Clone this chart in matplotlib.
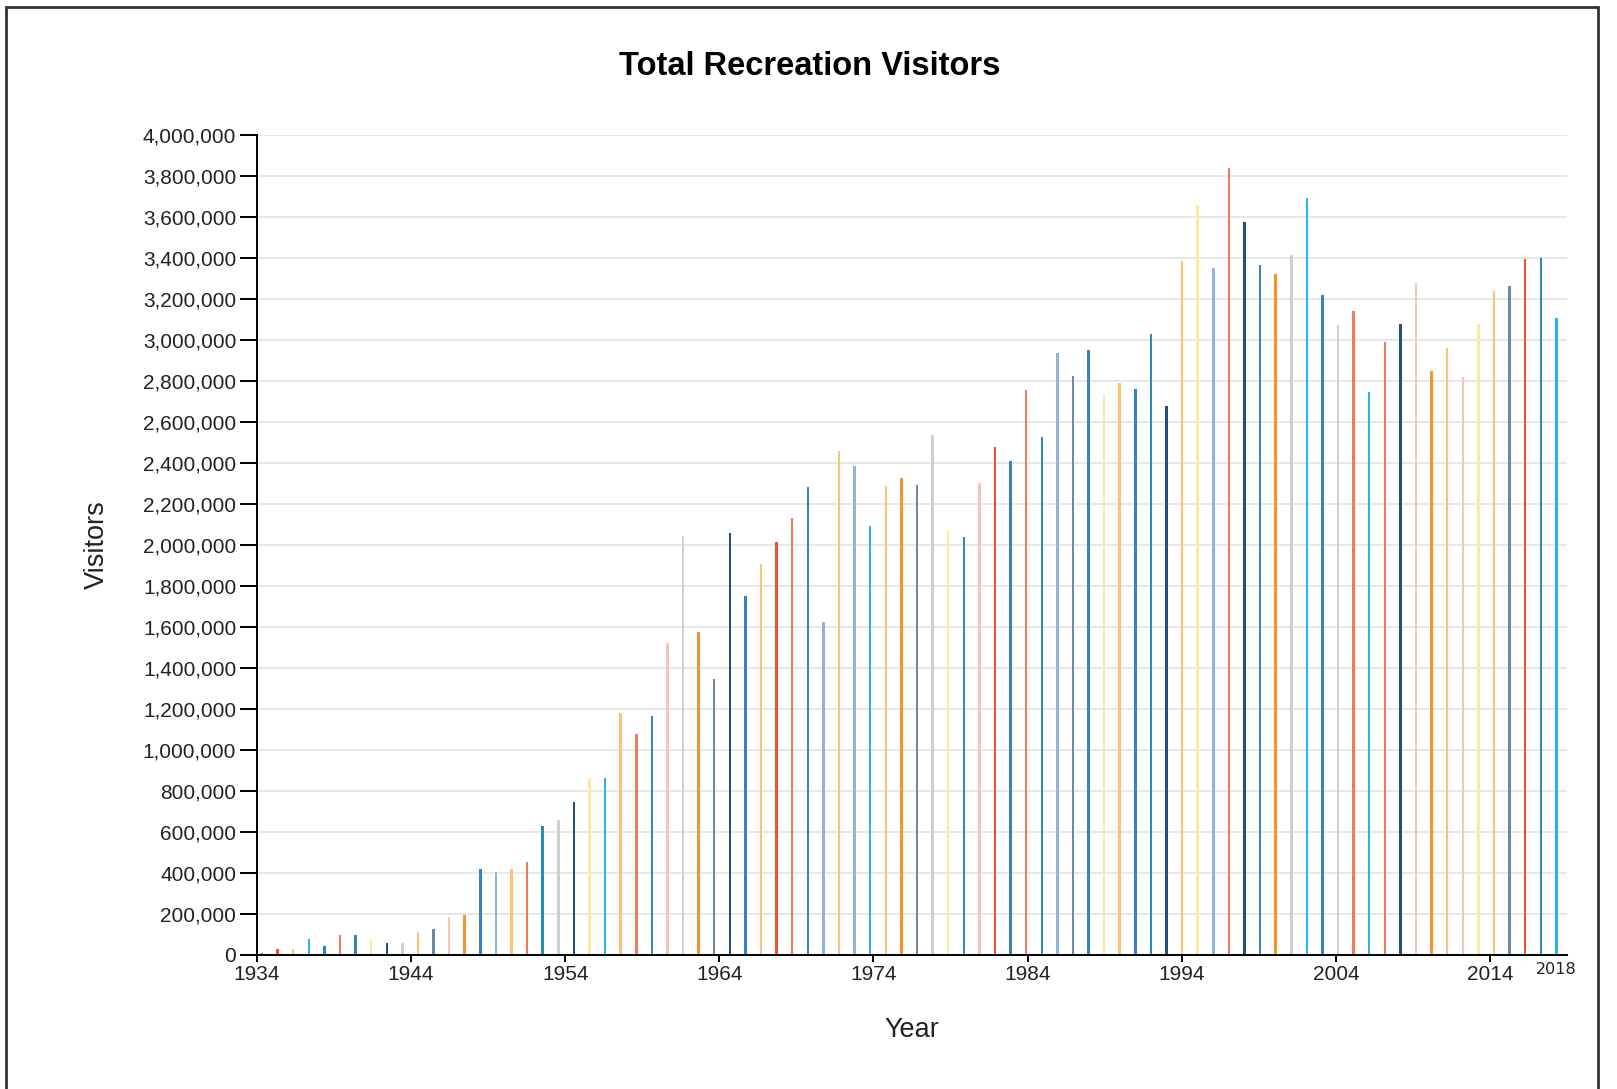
import matplotlib
matplotlib.use('Agg')
import matplotlib.pyplot as plt
from matplotlib.ticker import FuncFormatter
from matplotlib.patches import Rectangle
import numpy as np

# one bar per year
years = list(range(1935, 2019))
visitors = [11000, 28000, 28000, 77000, 45000, 96000, 96000, 77000, 60000, 60000,
            111000, 128000, 187000, 195000, 421000, 403000, 421000, 455000, 628000, 660000,
            745000, 862000, 862000, 1180000, 1080000, 1164000, 1524000, 2042000, 1574000, 1347000,
            2058000, 1749000, 1909000, 2016000, 2134000, 2285000, 1622000, 2460000, 2385000, 2094000,
            2288000, 2326000, 2295000, 2537000, 2075000, 2038000, 2302000, 2477000, 2409000, 2754000,
            2529000, 2936000, 2822000, 2953000, 2737000, 2792000, 2761000, 3030000, 2677000, 3383000,
            3658000, 3349000, 3840000, 3577000, 3365000, 3323000, 3415000, 3692000, 3221000, 3072000,
            3140000, 2745000, 2991000, 3080000, 3276000, 2847000, 2962000, 2821000, 3080000, 3240000,
            3265000, 3394000, 3399000, 3106000]

tick_years = list(range(1934, 2015, 10))

palette = {
    'N': '#22507a', 'B': '#3582c4', 'L': '#92b4da', 'C': '#27b3ec',
    'T': '#2a8bb6', 'S': '#6d87a6', 'G': '#cfcfcf', 'Y': '#fde8a0',
    'O': '#fdc273', 'R': '#f7932b', 'E': '#ef4f2e', 'A': '#f07b5b',
    'P': '#f9c3b6',
}
bar_keys = ("TEOCTABYNG" "OSPRBLOATG" "NYCOABPGRS" "NBOEABLOLC"
            "ORSGYTPEBA" "TLSBYOBTNO" "YLANBRGCBG" "ACANPROPYO" "SETC")
bar_colors = [palette[k] for k in bar_keys]

font = 'Liberation Sans'

fig = plt.figure(figsize=(16.17, 10.89), dpi=100)
ax = fig.add_axes([257 / 1617, 1 - 955 / 1089, 1310 / 1617, 820 / 1089])

# band-like placement of the bars across the time axis
x0, x1 = 1934, 2019
step = (x1 - x0) / len(years)
pos = [x0 + (y - years[0] + 0.32) * step for y in years]

ax.bar(pos, visitors, width=0.16, color=bar_colors, zorder=3)

ax.set_xlim(x0, x1)
ax.set_ylim(0, 4000000)
ax.set_yticks(np.arange(0, 4000001, 200000))
ax.yaxis.set_major_formatter(FuncFormatter(lambda v, p: '{:,.0f}'.format(v)))
ax.set_xticks(tick_years)
ax.set_xticklabels([str(t) for t in tick_years])

ax.grid(axis='y', color='#e2e2e2', linewidth=1.1, zorder=0)
ax.grid(axis='x', visible=False)
for s in ['top', 'right']:
    ax.spines[s].set_visible(False)
for s in ['left', 'bottom']:
    ax.spines[s].set_color('black')
    ax.spines[s].set_linewidth(1.4)
    ax.spines[s].set_zorder(4)

ax.tick_params(axis='y', length=12, width=1.4, pad=3, labelsize=15, labelcolor='#222222')
ax.tick_params(axis='x', length=5, width=1.4, pad=2, labelsize=15, labelcolor='#222222')
for lab in ax.get_xticklabels() + ax.get_yticklabels():
    lab.set_fontfamily(font)

# last year label, under the last bar
ax.text(pos[-1], -0.008, str(years[-1]), transform=ax.get_xaxis_transform(),
        ha='center', va='top', fontsize=11.5, family='DejaVu Sans', color='#222222')

fig.text(0.501, 0.939, 'Total Recreation Visitors', ha='center', va='center',
         fontsize=23.5, fontweight='bold', family=font, color='black')
fig.text(912 / 1617, 1 - 1030 / 1089, 'Year', ha='center', va='center',
         fontsize=19.5, family=font, color='#222222')
fig.text(97 / 1617, 1 - 545 / 1089, 'Visitors', ha='center', va='center', rotation=90,
         fontsize=19.5, family=font, color='#222222')

# dark frame around the chart
fig.patches.append(Rectangle((6 / 1617, -0.02), 1592 / 1617, 1.02 - 7 / 1089,
                             transform=fig.transFigure, fill=False,
                             edgecolor='#333333', linewidth=2))

fig.savefig('out.png', dpi=100, facecolor='white')
